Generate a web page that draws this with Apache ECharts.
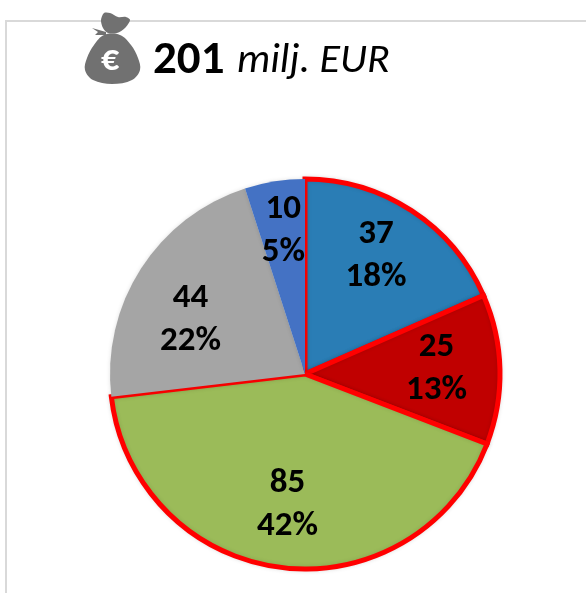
<!DOCTYPE html>
<html>
<head>
<meta charset="utf-8">
<style>html,body{margin:0;padding:0;background:#fff}#c{width:586px;height:593px}</style>
<script src="https://cdn.jsdelivr.net/npm/echarts@6/dist/echarts.min.js"></script>
</head>
<body>
<div id="c"></div>
<script>
const categories = ['A', 'B', 'C', 'D', 'E'];
const values = [37, 25, 85, 44, 10];
const percentLabels = ['18%', '13%', '42%', '22%', '5%'];
const sliceColors = ['#2a7db5', '#c00000', '#9bbb59', '#a5a5a5', '#4472c4'];
const outlined = [true, true, true, false, false];
const labelOffsets = [[16, -34], [31, -3], [-5, 31], [-30, 0], [-6, -44]];
const totalText = '201';
const unitText = ' milj. EUR';

const labelFont = 'Carlito, Lato, "Open Sans", sans-serif';
const bagFill = '#717171';
const chart = echarts.init(document.getElementById('c'), null, {renderer: 'canvas'});
chart.setOption({
  animation: false,
  backgroundColor: '#ffffff',
  title: {
    left: 153, top: 36, padding: 0,
    text: '{a|' + totalText + '}{b|' + unitText + '}',
    textStyle: {
      fontWeight: 'normal',
      rich: {
        a: {fontFamily: labelFont, fontWeight: 'bold', fontSize: 47, color: '#000', lineHeight: 50},
        b: {fontFamily: labelFont, fontWeight: 'normal', fontStyle: 'italic', fontSize: 42, color: '#000', lineHeight: 50, padding: [0, 0, 0, 3]}
      }
    }
  },
  graphic: [
    {type: 'polyline', silent: true, z: 0, shape: {points: [[6, 593], [6, 21], [586, 21]]},
     style: {stroke: '#d9d9d9', lineWidth: 2, fill: null}},
    {type: 'polygon', silent: true, z: 5,
     shape: {smooth: 0.3, points: [[101, 20], [104, 13], [110, 13], [118, 17], [126, 17], [130, 20], [125, 28], [117, 33], [108, 33], [103, 28]]},
     style: {fill: bagFill}},
    {type: 'polygon', silent: true, z: 5,
     shape: {smooth: 0.35, points: [[104, 35], [120, 35], [131, 45], [138, 58], [140, 70], [132, 80], [112, 84], [93, 80], [85, 70], [87, 58], [94, 45]]},
     style: {fill: bagFill}},
    {type: 'polygon', silent: true, z: 5,
     shape: {points: [[92, 28], [106, 32], [106, 35], [95, 35], [98, 32]]},
     style: {fill: bagFill}},
    {type: 'text', silent: true, z: 6, x: 110, y: 61,
     style: {text: '€', fill: '#fff', font: 'bold 36px ' + labelFont, textAlign: 'center', textVerticalAlign: 'middle'}}
  ],
  series: [{
    type: 'pie',
    center: [305, 374],
    radius: [0, 195],
    startAngle: 90,
    clockwise: true,
    avoidLabelOverlap: false,
    silent: true,
    labelLine: {show: false},
    data: categories.map((name, i) => ({
      name,
      value: values[i],
      itemStyle: {
        color: sliceColors[i],
        borderColor: '#ff0000',
        borderWidth: outlined[i] ? 5 : 0,
        borderJoin: 'miter',
        shadowBlur: 4,
        shadowColor: 'rgba(0,0,0,0.12)'
      },
      label: {
        show: true,
        position: 'inside',
        offset: labelOffsets[i],
        formatter: values[i] + '\n' + percentLabels[i],
        fontFamily: labelFont,
        fontWeight: 'bold',
        fontSize: 35,
        lineHeight: 43,
        color: '#000',
        align: 'center',
        verticalAlign: 'middle'
      }
    }))
  }]
});
</script>
</body>
</html>
